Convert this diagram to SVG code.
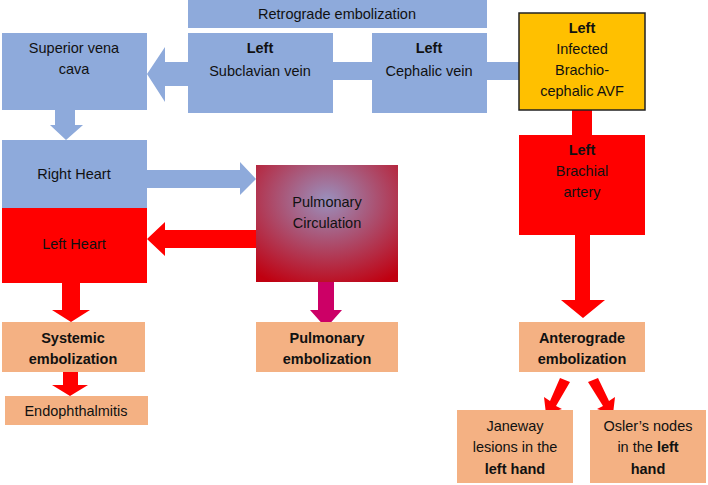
<svg xmlns="http://www.w3.org/2000/svg" width="708" height="485" viewBox="0 0 708 485">
<defs>
<radialGradient id="pg" cx="0.5" cy="0.3" r="0.8">
<stop offset="0" stop-color="#9a90bd"/><stop offset="1" stop-color="#c00010"/>
</radialGradient>
<style>
text{font-family:"Liberation Sans",Arial,sans-serif;font-size:14.5px;text-anchor:middle;fill:#111}
.b{font-weight:bold}
.blue{fill:#8eaadb}.red{fill:#ff0000}.pe{fill:#f4b183}
</style>
</defs>
<g id="connectors">
<polygon class="blue" points="487,62 519,62 519,80 487,80"/>
<polygon class="blue" points="333,62 372,62 372,80 333,80"/>
<polygon class="blue" points="188,62 165,62 165,47 147,74 165,102 165,86 188,86"/>
<polygon class="blue" points="55,110 75,110 75,125 83,125 66,140 50,125 55,125"/>
<polygon class="blue" points="147,170 240,170 240,162 256,179 240,195 240,188 147,188"/>
<polygon class="red" points="256,230 165,230 165,222 147,239 165,256 165,248 256,248"/>
<polygon class="red" points="62,283 80,283 80,310 90,310 71,322 52,310 62,310"/>
<polygon class="red" points="63,372 78,372 78,385 88,385 70,396 52,385 63,385"/>
<polygon fill="#cc0066" points="318,282 334,282 334,310 342,310 326,328 310,310 318,310"/>
<polygon class="red" points="572,110 592,110 592,135 572,135"/>
<polygon class="red" points="575,235 590,235 590,300 605,300 583,318 561,300 575,300"/>
<polygon class="red" points="560,378 570,382 556,406 562,409 546,414 544,397 550,401"/>
<polygon class="red" points="588,382 598,378 609,401 615,397 613,414 597,409 603,406"/>
</g>
<g id="retro"><rect class="blue" x="188" y="0" width="299" height="28"/><text x="337" y="19">Retrograde embolization</text></g>
<g id="svc"><rect class="blue" x="2" y="33" width="145" height="77"/><text x="74" y="53">Superior vena</text><text x="74" y="74">cava</text></g>
<g id="subclavian"><rect class="blue" x="188" y="33" width="145" height="80"/><text class="b" x="260" y="53">Left</text><text x="260" y="76">Subclavian vein</text></g>
<g id="cephalic"><rect class="blue" x="372" y="33" width="115" height="80"/><text class="b" x="429" y="53">Left</text><text x="429" y="76">Cephalic vein</text></g>
<g id="avf"><rect fill="#ffc000" stroke="#222" stroke-width="1.5" x="519" y="13" width="126" height="97"/><text class="b" x="582" y="33">Left</text><text x="582" y="54">Infected</text><text x="582" y="75">Brachio-</text><text x="582" y="96">cephalic AVF</text></g>
<g id="brachial"><rect class="red" x="519" y="135" width="126" height="100"/><text class="b" x="582" y="155">Left</text><text x="582" y="176">Brachial</text><text x="582" y="197">artery</text></g>
<g id="rightheart"><rect class="blue" x="2" y="140" width="145" height="68"/><text x="74" y="179">Right Heart</text></g>
<g id="leftheart"><rect class="red" x="2" y="208" width="145" height="75"/><text x="74" y="249">Left Heart</text></g>
<g id="pulmcirc"><rect fill="url(#pg)" x="256" y="165" width="142" height="117"/><text x="327" y="207">Pulmonary</text><text x="327" y="228">Circulation</text></g>
<g id="systemic"><rect class="pe" x="2" y="322" width="143" height="50"/><text class="b" x="73" y="343">Systemic</text><text class="b" x="73" y="364">embolization</text></g>
<g id="endo"><rect class="pe" x="5" y="396" width="143" height="29"/><text x="76" y="416">Endophthalmitis</text></g>
<g id="pulmemb"><rect class="pe" x="256" y="322" width="142" height="50"/><text class="b" x="327" y="343">Pulmonary</text><text class="b" x="327" y="364">embolization</text></g>
<g id="antero"><rect class="pe" x="519" y="322" width="126" height="50"/><text class="b" x="582" y="343">Anterograde</text><text class="b" x="582" y="364">embolization</text></g>
<g id="janeway"><rect class="pe" x="457" y="410" width="116" height="73"/><text x="515" y="431">Janeway</text><text x="515" y="452">lesions in the</text><text class="b" x="515" y="474">left hand</text></g>
<g id="osler"><rect class="pe" x="590" y="410" width="116" height="73"/><text x="648" y="431">Osler’s nodes</text><text x="648" y="452">in the <tspan class="b">left</tspan></text><text class="b" x="648" y="474">hand</text></g>
</svg>
